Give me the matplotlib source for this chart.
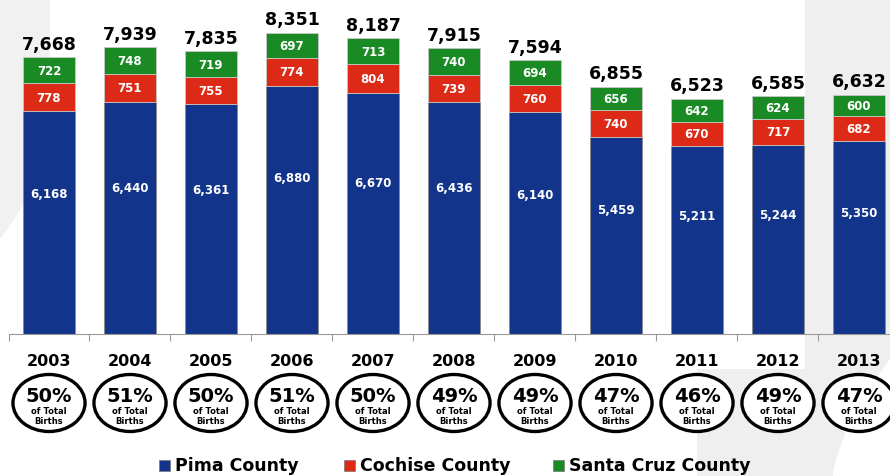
import numpy as np
import matplotlib
matplotlib.use('Agg')
import matplotlib.pyplot as plt
import matplotlib.transforms as mtransforms
from matplotlib.patches import Ellipse, Polygon, Rectangle

years = ['2003', '2004', '2005', '2006', '2007', '2008', '2009', '2010', '2011', '2012', '2013']
pima = [6168, 6440, 6361, 6880, 6670, 6436, 6140, 5459, 5211, 5244, 5350]
cochise = [778, 751, 755, 774, 804, 739, 760, 740, 670, 717, 682]
santa_cruz = [722, 748, 719, 697, 713, 740, 694, 656, 642, 624, 600]
totals = [7668, 7939, 7835, 8351, 8187, 7915, 7594, 6855, 6523, 6585, 6632]
pct_of_births = ['50%', '51%', '50%', '51%', '50%', '49%', '49%', '47%', '46%', '49%', '47%']
series_names = ['Pima County', 'Cochise County', 'Santa Cruz County']

BLUE = '#12348a'
RED = '#dc2a16'
GREEN = '#1a8a24'

W, H = 890, 477
fig = plt.figure(figsize=(W / 100, H / 100), dpi=100)
fig.patch.set_facecolor('white')


def add_bg(xs, ys, color):
    pts = np.column_stack([np.asarray(xs) / W, 1 - np.asarray(ys) / H])
    fig.patches.append(Polygon(pts, closed=True, transform=fig.transFigure,
                               facecolor=color, edgecolor='none', zorder=-5))


# light gray decorative background (slide swoosh)
t = np.linspace(0, 1, 40)
add_bg(np.concatenate([[0, 50], 50 - 50 * t ** 2]),
       np.concatenate([[0, 0], 110 + 130 * t]), '#f1f1f1')
curve_y = np.linspace(477, 360, 30)
curve_x = 833 + 57 * ((477 - curve_y) / 117) ** 1.5
add_bg(np.concatenate([[805, 890, 890], curve_x[::-1], [697, 697, 805]]),
       np.concatenate([[0, 0, 360], curve_y[::-1], [477, 370, 370]]), '#efefef')

base_px = 335
ax = fig.add_axes([8.5 / W, 1 - base_px / H, 891 / W, base_px / H])
ax.patch.set_alpha(0)
x = np.arange(len(years))
ymax = 9280
ax.set_xlim(-0.5, len(years) - 0.5)
ax.set_ylim(0, ymax)

bw = 0.64
bottom2 = np.array(pima)
bottom3 = bottom2 + np.array(cochise)
ax.bar(x, pima, bw, color=BLUE, edgecolor='#8a8a8a', linewidth=0.6, label=series_names[0])
ax.bar(x, cochise, bw, bottom=bottom2, color=RED, edgecolor='#c8c8c8', linewidth=0.6, label=series_names[1])
ax.bar(x, santa_cruz, bw, bottom=bottom3, color=GREEN, edgecolor='#c8c8c8', linewidth=0.6, label=series_names[2])

for i in range(len(years)):
    ax.text(x[i], pima[i] * 0.63, f'{pima[i]:,}', color='white', ha='center', va='center',
            fontsize=8.5, fontweight='bold')
    ax.text(x[i], bottom2[i] + cochise[i] / 2, f'{cochise[i]:,}', color='white', ha='center', va='center',
            fontsize=8.5, fontweight='bold')
    ax.text(x[i], bottom3[i] + santa_cruz[i] / 2, f'{santa_cruz[i]:,}', color='white', ha='center', va='center',
            fontsize=8.5, fontweight='bold')
    ax.text(x[i], totals[i] + 120, f'{totals[i]:,}', color='black', ha='center', va='bottom',
            fontsize=12.5, fontweight='heavy')

for s in ['top', 'right', 'left']:
    ax.spines[s].set_visible(False)
ax.spines['bottom'].set_color('#999999')
ax.set_yticks([])
ax.set_xticks(np.arange(-0.5, len(years), 1))
ax.set_xticklabels([])
ax.tick_params(axis='x', length=5, color='#999999', direction='out')

# year labels and "of total births" ellipses below axis
tr = mtransforms.blended_transform_factory(ax.transData, fig.transFigure)
for i in range(len(years)):
    ax.text(x[i], 1 - 362 / H, years[i], transform=tr, ha='center', va='center',
            fontsize=11.5, fontweight='heavy', clip_on=False)
    e = Ellipse((x[i], 1 - 404 / H), 0.89, 57 / H, transform=tr, facecolor='white',
                edgecolor='black', linewidth=2.4, clip_on=False)
    ax.add_patch(e)
    ax.text(x[i], 1 - 396 / H, pct_of_births[i], transform=tr, ha='center', va='center',
            fontsize=14, fontweight='heavy', clip_on=False)
    ax.text(x[i], 1 - 412 / H, 'of Total', transform=tr, ha='center', va='center',
            fontsize=6, fontweight='bold', clip_on=False)
    ax.text(x[i], 1 - 422 / H, 'Births', transform=tr, ha='center', va='center',
            fontsize=6, fontweight='bold', clip_on=False)

# legend
leg_items = [(159, BLUE), (344, RED), (553, GREEN)]
for (lx, col), name in zip(leg_items, series_names):
    fig.patches.append(Rectangle((lx / W, 1 - 472 / H), 11 / W, 11 / H, transform=fig.transFigure,
                                 facecolor=col, edgecolor='#777777', linewidth=0.5))
    fig.text((lx + 16) / W, 1 - 466 / H, name, ha='left', va='center', fontsize=12.5, fontweight='heavy')

fig.savefig('out.png', dpi=100)
